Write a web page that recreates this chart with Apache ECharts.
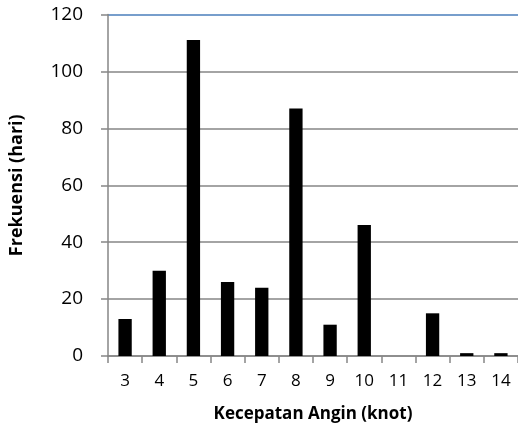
<!DOCTYPE html>
<html>
<head>
<meta charset="utf-8">
<script src="https://cdn.jsdelivr.net/npm/echarts@6/dist/echarts.min.js"></script>
<style>html,body{margin:0;padding:0;background:#fff}#c{width:518px;height:434px}</style>
</head>
<body>
<div id="c"></div>
<script>
const categories = ['3','4','5','6','7','8','9','10','11','12','13','14'];
const frekuensi = [13, 30, 111, 26, 24, 87, 11, 46, 0, 15, 1, 1];
const yTicks = [0, 20, 40, 60, 80, 100, 120];
const xTitle = 'Kecepatan Angin (knot)';
const yTitle = 'Frekuensi (hari)';

const font = 'Open Sans';
const chart = echarts.init(document.getElementById('c'));
chart.setOption({
  animation: false,
  grid: { left: 103, right: 0, top: 14.5, bottom: 78, containLabel: false },
  xAxis: {
    type: 'category',
    data: categories,
    name: xTitle,
    nameLocation: 'middle',
    nameGap: 50,
    nameTextStyle: { fontFamily: font, fontWeight: 'bold', fontSize: 17, color: '#000' },
    axisLine: { lineStyle: { color: '#868686', width: 1.5 } },
    axisTick: { show: true, length: 7, lineStyle: { color: '#868686', width: 1.5 } },
    axisLabel: { fontFamily: font, fontSize: 17, color: '#000', margin: 17 },
    splitLine: { show: false }
  },
  yAxis: {
    type: 'value',
    min: yTicks[0],
    max: yTicks[yTicks.length - 1],
    interval: 20,
    name: yTitle,
    nameLocation: 'middle',
    nameGap: 82,
    nameRotate: 90,
    nameTextStyle: { fontFamily: font, fontWeight: 'bold', fontSize: 18, color: '#000' },
    axisLine: { show: true, lineStyle: { color: '#868686', width: 1.5 } },
    axisTick: { show: true, length: 7, lineStyle: { color: '#868686', width: 1.5 } },
    axisLabel: { fontFamily: font, fontSize: 19, color: '#000', margin: 25 },
    splitLine: { show: true, lineStyle: { color: ['#868686','#868686','#868686','#868686','#868686','#868686','#4a7ebb'], width: 1.5 } }
  },
  series: [{
    type: 'bar',
    data: frekuensi,
    barWidth: '39%',
    itemStyle: { color: '#000' }
  }]
});
</script>
</body>
</html>
